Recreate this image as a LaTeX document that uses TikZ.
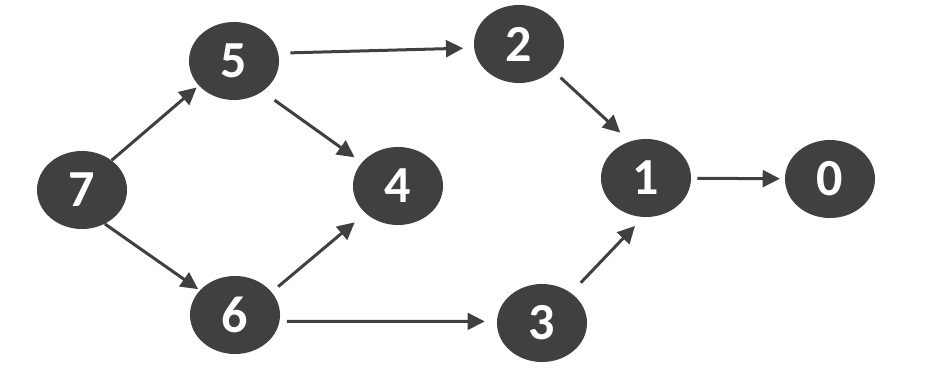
\documentclass[tikz,border=0pt]{standalone}
\usepackage{fontspec}
\setsansfont{Carlito}
\usepackage{xcolor}
\usepackage{tikz}
\usetikzlibrary{arrows.meta,shapes.geometric}
\definecolor{Vfill}{HTML}{404040}
\definecolor{Vedge}{HTML}{404040}

\begin{document}
\begin{tikzpicture}[
  x=0.025cm, y=-0.025cm, font=\sffamily,
  vtx/.style ={ellipse, fill=Vfill, text=white, minimum width=2.25cm, minimum height=1.95cm, inner sep=0pt, font=\sffamily\bfseries\fontsize{37}{37}\selectfont},
  link/.style={-{Triangle[length=0.43cm, width=0.42cm]}, line width=0.075cm, draw=Vedge},
]

\useasboundingbox (0,0) rectangle (946,386);

% ── vertices ─────────────────────────────────────────────────────────
\node[vtx] (v7) at (82,190)  {7};
\node[vtx] (v5) at (234,61)  {5};
\node[vtx] (v6) at (235,315) {6};
\node[vtx] (v4) at (398,186) {4};
\node[vtx] (v2) at (519,44)  {2};
\node[vtx] (v3) at (542,323) {3};
\node[vtx] (v1) at (646,178) {1};
\node[vtx] (v0) at (830,179) {0};

% ── edges ────────────────────────────────────────────────────────────
\draw[link, shorten >=0.07cm] (v7.45) -- (v5.215);
\draw[link, shorten >=0.05cm] (v7.-56) -- (v6.145);
\draw[link, shorten <=0.37cm, shorten >=0.22cm] (v5.-47) -- (v4.147);
\draw[link, shorten <=0.21cm, shorten >=0.35cm] (v6.32) -- (v4.-140);
\draw[link, shorten <=0.3cm, shorten >=0.27cm] (v5.10) -- (v2.185);
\draw[link, shorten <=0.18cm, shorten >=0.3cm] (v6.-8) -- (v3.178);
\draw[link, shorten <=0.27cm, shorten >=0.32cm] (v2.-38) -- (v1.114);
\draw[link, shorten <=0.35cm, shorten >=0.3cm] (v3.46) -- (v1.-94);
\draw[link, shorten <=0.15cm, shorten >=0.12cm] (v1) -- (v0);

\end{tikzpicture}
\end{document}
